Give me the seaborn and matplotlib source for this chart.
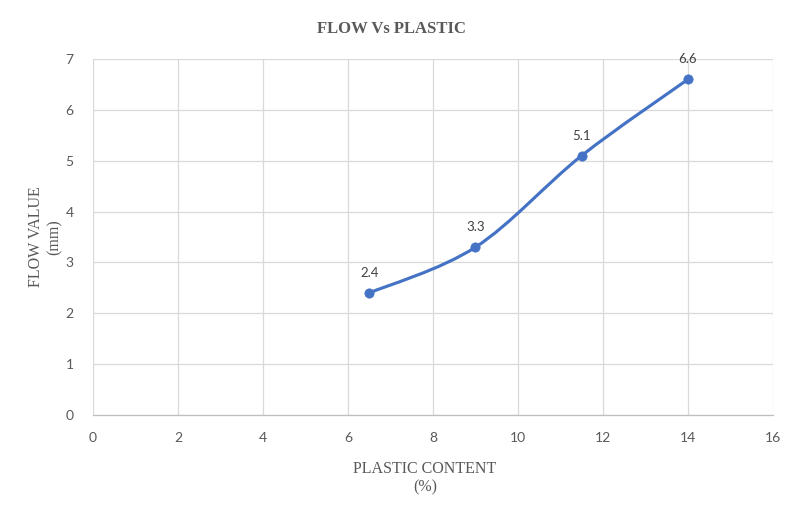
import numpy as np
import seaborn as sns
import matplotlib
matplotlib.use('Agg')
import matplotlib.pyplot as plt
from matplotlib.path import Path
from matplotlib.patches import PathPatch

# data
plastic = [6.5, 9, 11.5, 14]
flow = [2.4, 3.3, 5.1, 6.6]
labels = ['2.4', '3.3', '5.1', '6.6']

sns.set_theme(style='white')
plt.rcParams['font.family'] = ['Lato', 'DejaVu Sans']

blue = '#4472C4'
grey_txt = '#595959'
grid_c = '#D9D9D9'

fig = plt.figure(figsize=(8.03, 5.17), dpi=100)
ax = fig.add_axes([0.1158, 0.1973, 0.9626 - 0.1158, 0.8859 - 0.1973])

# smooth line like Excel (cardinal bezier through the points)
x = np.array(plastic, dtype=float)
y = np.array(flow, dtype=float)
verts = [(x[0], y[0])]
codes = [Path.MOVETO]
n = len(x)
for i in range(n - 1):
    x0, y0 = (x[i - 1], y[i - 1]) if i > 0 else (x[i], y[i])
    x3, y3 = (x[i + 2], y[i + 2]) if i + 2 < n else (x[i + 1], y[i + 1])
    c1 = (x[i] + (x[i + 1] - x0) / 6, y[i] + (y[i + 1] - y0) / 6)
    c2 = (x[i + 1] - (x3 - x[i]) / 6, y[i + 1] - (y3 - y[i]) / 6)
    verts += [c1, c2, (x[i + 1], y[i + 1])]
    codes += [Path.CURVE4] * 3
ax.add_patch(PathPatch(Path(verts, codes), facecolor='none', edgecolor=blue,
                       lw=2.25, capstyle='round', joinstyle='round', zorder=3))

sns.scatterplot(x=plastic, y=flow, ax=ax, color=blue, s=45, edgecolor=blue,
                linewidth=0.5, zorder=4)

for xi, yi, lab in zip(plastic, flow, labels):
    ax.annotate(lab, (xi, yi), xytext=(0, 10), textcoords='offset points',
                ha='center', va='bottom', fontsize=9.5, color='#404040')

ax.set_xlim(0, 16)
ax.set_ylim(0, 7)
ax.set_xticks(range(0, 17, 2))
ax.set_yticks(range(0, 8))
ax.grid(True, color=grid_c, lw=0.9)
ax.set_axisbelow(True)
for s in ['top', 'right', 'left']:
    ax.spines[s].set_visible(False)
ax.spines['bottom'].set_color('#BFBFBF')
ax.spines['bottom'].set_linewidth(0.9)
ax.tick_params(axis='both', length=0, labelsize=10, colors=grey_txt)
ax.tick_params(axis='x', pad=12)
ax.tick_params(axis='y', pad=14)

serif = ['Liberation Serif', 'DejaVu Serif']
ax.set_xlabel('PLASTIC CONTENT\n(%)', family=serif, fontsize=11.5,
              color=grey_txt, linespacing=1.2)
ax.set_ylabel('FLOW VALUE\n(mm)', family=serif, fontsize=11.5,
              color=grey_txt, linespacing=1.2)
ax.xaxis.set_label_coords(0.488, -0.13)
ax.yaxis.set_label_coords(-0.045, 0.5)
fig.text(0.4875, 0.944, 'FLOW Vs PLASTIC', family=serif, fontsize=12,
         fontweight='bold', color=grey_txt, ha='center', va='center')

fig.savefig('out.png', dpi=100)
